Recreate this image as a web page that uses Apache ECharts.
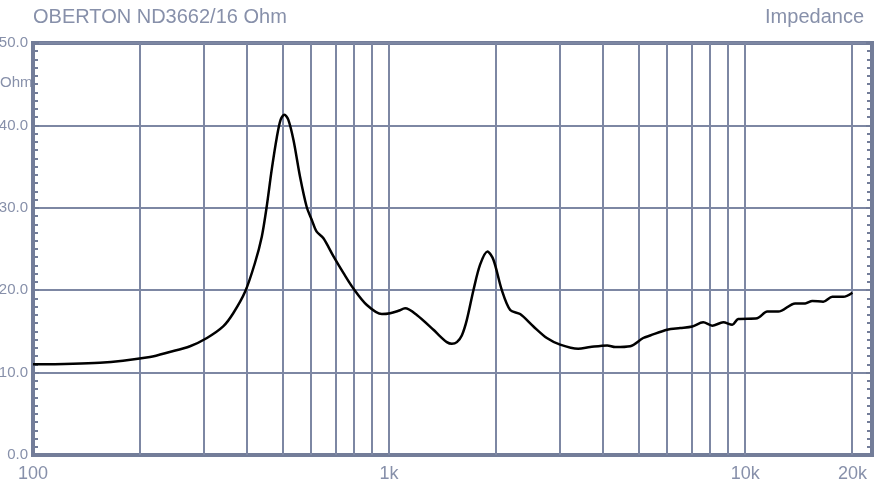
<!DOCTYPE html>
<html>
<head>
<meta charset="utf-8">
<script src="https://cdn.jsdelivr.net/npm/echarts@6/dist/echarts.min.js"></script>
<style>html,body{margin:0;padding:0;background:#fff}#c{width:875px;height:484px}</style>
</head>
<body>
<div id="c"></div>
<script>
var titleText = 'OBERTON ND3662/16 Ohm';
var rightText = 'Impedance';
var unitText = 'Ohm';
var freqs = [100,154,213,242,276,308,342,365,394,420,439,453,468,484,496,508,521,539,562,587,607,626,654,698,744,794,866,954,1007,1062,1109,1196,1332,1391,1452,1500,1550,1600,1653,1725,1801,1889,1963,2073,2188,2333,2543,2773,3022,3396,3670,4096,4314,4754,5170,5410,6037,6568,7099,7621,8078,8676,9194,9557,10807,11530,12380,13815,14740,15430,16560,17560,18850,20000];
var impedance = [11.0,11.2,11.9,12.5,13.2,14.2,15.6,17.2,19.8,23.3,26.5,30.1,34.6,38.6,40.7,41.3,40.7,38.2,33.8,30.1,28.5,27.1,26.3,24.1,22.1,20.2,18.2,17.1,17.2,17.5,17.8,17.0,15.2,14.4,13.7,13.5,13.7,14.5,16.4,20.0,23.1,24.7,23.7,20.0,17.6,17.1,15.6,14.2,13.4,12.9,13.1,13.3,13.1,13.2,14.2,14.5,15.2,15.4,15.6,16.1,15.7,16.1,15.8,16.5,16.6,17.4,17.4,18.4,18.4,18.7,18.6,19.2,19.2,19.7];
var gridFreqs = [200,300,400,500,600,700,800,900,1000,2000,3000,4000,5000,6000,7000,8000,9000,10000,20000];
var xTickFreqs = [100,1000,10000,20000];
var xTickLabels = ['100','1k','10k','20k'];
var freqMin = 100, freqMax = 22700;
var yMin = 0, yMax = 50, yStep = 10;

var L = Math.log10;
var axisCol = '#737d99';
var gridCol = '#7d87a3';
var textCol = '#8790aa';
var chart = echarts.init(document.getElementById('c'));
chart.setOption({
  animation: false,
  title: [
    {text: titleText, left: 28, top: 2, textStyle: {fontFamily: 'Liberation Sans, Arial', fontSize: 20, fontWeight: 'normal', color: textCol}},
    {text: rightText, right: 6, top: 2, textStyle: {fontFamily: 'Liberation Sans, Arial', fontSize: 20, fontWeight: 'normal', color: textCol}}
  ],
  graphic: [{type: 'text', left: 0, top: 75, style: {text: unitText, fill: textCol, font: '15px "Liberation Sans", Arial'}}],
  grid: {left: 33, right: 3, top: 43, bottom: 29, show: true, borderColor: axisCol, borderWidth: 4, outerBoundsMode: 'none', containLabel: false},
  xAxis: {
    type: 'value', min: L(freqMin), max: L(freqMax),
    axisLine: {show: true, lineStyle: {color: axisCol, width: 4}},
    axisTick: {show: false},
    splitLine: {show: false},
    axisLabel: {
      customValues: xTickFreqs.map(L),
      formatter: function (v) { for (var i = 0; i < xTickFreqs.length; i++) { if (Math.abs(L(xTickFreqs[i]) - v) < 1e-6) return xTickLabels[i]; } return ''; },
      color: textCol, fontSize: 18, fontFamily: 'Liberation Sans, Arial', margin: 10, showMinLabel: true, showMaxLabel: true
    }
  },
  yAxis: [
    {
      type: 'value', min: yMin, max: yMax, interval: yStep, position: 'left',
      axisLine: {show: true, lineStyle: {color: axisCol, width: 4}},
      axisTick: {show: true, inside: true, length: 6, lineStyle: {color: axisCol, width: 2}},
      minorTick: {show: true, splitNumber: 10, length: 5, lineStyle: {color: axisCol, width: 2}},
      splitLine: {show: true, lineStyle: {color: gridCol, width: 2}},
      axisLabel: {formatter: function (v) { return v.toFixed(1); }, color: textCol, fontSize: 15, fontFamily: '"Liberation Sans", Arial', margin: 5}
    },
    {
      type: 'value', min: yMin, max: yMax, interval: yStep, position: 'right',
      axisLine: {show: true, lineStyle: {color: axisCol, width: 4}},
      axisTick: {show: true, inside: true, length: 6, lineStyle: {color: axisCol, width: 2}},
      minorTick: {show: true, splitNumber: 10, length: 5, lineStyle: {color: axisCol, width: 2}},
      splitLine: {show: false},
      axisLabel: {show: false}
    }
  ],
  series: [
    {
      type: 'line', data: [], z: 1, silent: true,
      markLine: {
        silent: true, symbol: 'none', label: {show: false},
        lineStyle: {color: gridCol, width: 2, type: 'solid'},
        data: gridFreqs.map(function (f) { return {xAxis: L(f)}; })
      }
    },
    {
      type: 'line', z: 5, showSymbol: false, smooth: 0.3,
      lineStyle: {color: '#000', width: 2.5},
      data: freqs.map(function (f, i) { return [L(f), impedance[i]]; })
    }
  ]
});
</script>
</body>
</html>
